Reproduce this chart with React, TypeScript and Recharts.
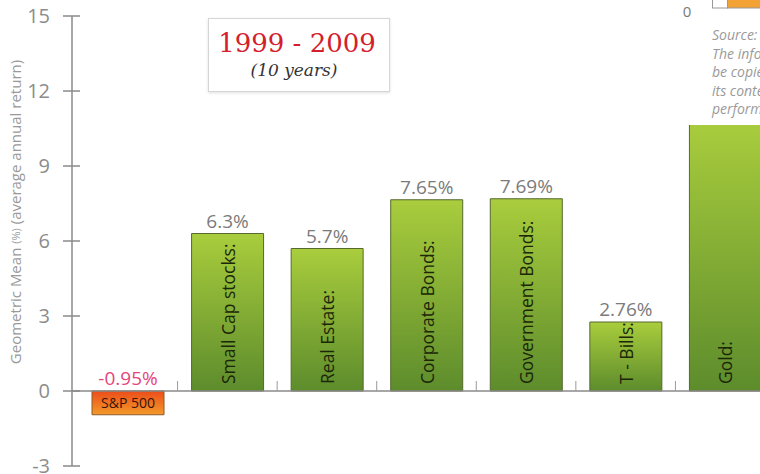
import React from "react"
import { BarChart, Bar, XAxis, YAxis, Cell, LabelList, ReferenceLine } from "recharts"

const categories = ["S&P 500", "Small Cap stocks:", "Real Estate:", "Corporate Bonds:", "Government Bonds:", "T - Bills:", "Gold:"]
const returns = [-0.95, 6.3, 5.7, 7.65, 7.69, 2.76, 10.8]
const valueLabels = ["-0.95%", "6.3%", "5.7%", "7.65%", "7.69%", "2.76%", ""]
const yTicks = [-3, 0, 3, 6, 9, 12, 15]
const sourceLines = ["Source: ", "The information", "be copied", "its contents", "performance"]

const data = categories.map((name, i) => ({ name, value: returns[i] }))

const FONT = "'Open Sans', 'DejaVu Sans', sans-serif"
const SERIF = "'DejaVu Serif', serif"
const CHART_W = 775
const CHART_H = 474
const TOP = 16
const X_AXIS_H = 8
const Y_AXIS_W = 72
const PAD_LEFT = 6
const Y_MIN = -3
const Y_MAX = 15
const PLOT_H = CHART_H - TOP - X_AXIS_H
const STEP = (CHART_W - Y_AXIS_W - PAD_LEFT) / categories.length
const ZERO_Y = TOP + (PLOT_H * Y_MAX) / (Y_MAX - Y_MIN)

function box(props: any) {
  const vb = props.viewBox && props.viewBox.width != null ? props.viewBox : props
  const { x, y, width, height } = vb
  return { cx: x + width / 2, top: Math.min(y, y + height), bottom: Math.max(y, y + height) }
}

function YTick({ x, y, payload }: any) {
  return (
    <g>
      <line x1={x - 9} x2={x + 8} y1={y} y2={y} stroke="#8a8a8a" strokeWidth={1.5} />
      <text x={x - 22} y={y} dy="0.36em" textAnchor="end" fontSize={20} fill="#8c8c8c" fontFamily={FONT}>
        {payload.value}
      </text>
    </g>
  )
}

function XTick({ x }: any) {
  const bx = x + STEP / 2
  return <line x1={bx} x2={bx} y1={ZERO_Y - 10} y2={ZERO_Y} stroke="#9a9a9a" strokeWidth={1} />
}

function YAxisTitle() {
  const cx = 15
  const cy = 212
  return (
    <text
      x={cx}
      y={cy}
      transform={`rotate(-90 ${cx} ${cy})`}
      textAnchor="middle"
      dominantBaseline="central"
      fontSize={15}
      fill="#999"
      fontFamily={FONT}
    >
      Geometric Mean <tspan fontSize={11}>(%)</tspan> (average annual return)
    </text>
  )
}

function ValueLabel(props: any) {
  const text = valueLabels[props.index]
  if (!text) return null
  const { cx, top } = box(props)
  return (
    <text x={cx} y={top - 6} textAnchor="middle" fontSize={19} fill={returns[props.index] < 0 ? "#e4457c" : "#7b7b7b"} fontFamily={FONT}>
      {text}
    </text>
  )
}

function NameLabel(props: any) {
  const { cx, top, bottom } = box(props)
  const name = categories[props.index]
  if (returns[props.index] < 0) {
    return (
      <text x={cx} y={(top + bottom) / 2} dy="0.36em" textAnchor="middle" fontSize={14} fill="#3a1405" fontFamily={FONT}>
        {name}
      </text>
    )
  }
  const by = bottom - 7
  return (
    <text x={cx} y={by} transform={`rotate(-90 ${cx} ${by})`} textAnchor="start" dominantBaseline="central" fontSize={17.5} fill="#1b2708" fontFamily={FONT}>
      {name}
    </text>
  )
}

export default function App() {
  return (
    <div style={{ position: "relative", width: 760, height: 474, overflow: "hidden", background: "#fff", fontFamily: FONT }}>
      <style>{"body{margin:0}"}</style>
      <BarChart width={CHART_W} height={CHART_H} data={data} margin={{ top: TOP, right: 0, bottom: 0, left: 0 }}>
        <defs>
          <linearGradient id="greenBar" x1="0" y1="0" x2="0" y2="1">
            <stop offset="0%" stopColor="#a9cd3d" />
            <stop offset="100%" stopColor="#5d8c2c" />
          </linearGradient>
          <linearGradient id="orangeBar" x1="0" y1="0" x2="0" y2="1">
            <stop offset="0%" stopColor="#ec4d1a" />
            <stop offset="100%" stopColor="#f39a2a" />
          </linearGradient>
          <filter id="softShadow" x="-10%" y="-10%" width="120%" height="120%">
            <feDropShadow dx="0" dy="0" stdDeviation="1.5" floodColor="#000" floodOpacity="0.15" />
          </filter>
        </defs>
        <XAxis
          dataKey="name"
          height={X_AXIS_H}
          padding={{ left: PAD_LEFT, right: 0 }}
          axisLine={false}
          tickLine={false}
          interval={0}
          tick={<XTick />}
        />
        <YAxis
          type="number"
          width={Y_AXIS_W}
          domain={[Y_MIN, Y_MAX]}
          ticks={yTicks}
          allowDataOverflow
          interval={0}
          axisLine={{ stroke: "#8a8a8a", strokeWidth: 1.5 }}
          tickLine={false}
          tickSize={0}
          tickMargin={0}
          tick={<YTick />}
          label={<YAxisTitle />}
        />
        <ReferenceLine y={0} stroke="#8a8a8a" strokeWidth={1.5} />
        <Bar dataKey="value" barSize={72} isAnimationActive={false}>
          {data.map((d, i) => (
            <Cell
              key={i}
              fill={d.value < 0 ? "url(#orangeBar)" : "url(#greenBar)"}
              stroke={d.value < 0 ? "#8b5a2b" : "#56692f"}
              strokeWidth={1}
            />
          ))}
          <LabelList dataKey="value" content={<ValueLabel />} />
          <LabelList dataKey="name" content={<NameLabel />} />
        </Bar>
      </BarChart>
      <svg width={760} height={474} style={{ position: "absolute", left: 0, top: 0, pointerEvents: "none" }}>
        <defs>
          <filter id="titleShadow" x="-10%" y="-10%" width="120%" height="130%">
            <feDropShadow dx="0" dy="1" stdDeviation="1.5" floodColor="#000" floodOpacity="0.12" />
          </filter>
        </defs>
        <rect x={680} y={0} width={80} height={125} fill="#fff" />
        <text x={687} y={12} dy="0.36em" textAnchor="middle" fontSize={15} fill="#7a7a7a" fontFamily={FONT}>
          0
        </text>
        <rect x={712.5} y={-3} width={15} height={11} fill="#fff" stroke="#999" />
        <rect x={727.5} y={-3} width={40} height={11} fill="#f3a235" stroke="#999" />
        {sourceLines.map((line, i) => (
          <text key={i} x={712} y={40 + i * 18.5} fontSize={14} fontStyle="italic" fill="#9a9a9a" fontFamily={FONT}>
            {line}
          </text>
        ))}
        <rect x={208.5} y={18.5} width={181} height={73} fill="#fff" stroke="#d6d6d6" filter="url(#titleShadow)" />
        <text x={297} y={52} textAnchor="middle" fontSize={26} fill="#d3202c" fontFamily={SERIF}>
          1999 - 2009
        </text>
        <text x={294} y={76} textAnchor="middle" fontSize={17} fontStyle="italic" fill="#333" fontFamily={SERIF}>
          (10 years)
        </text>
      </svg>
    </div>
  )
}
